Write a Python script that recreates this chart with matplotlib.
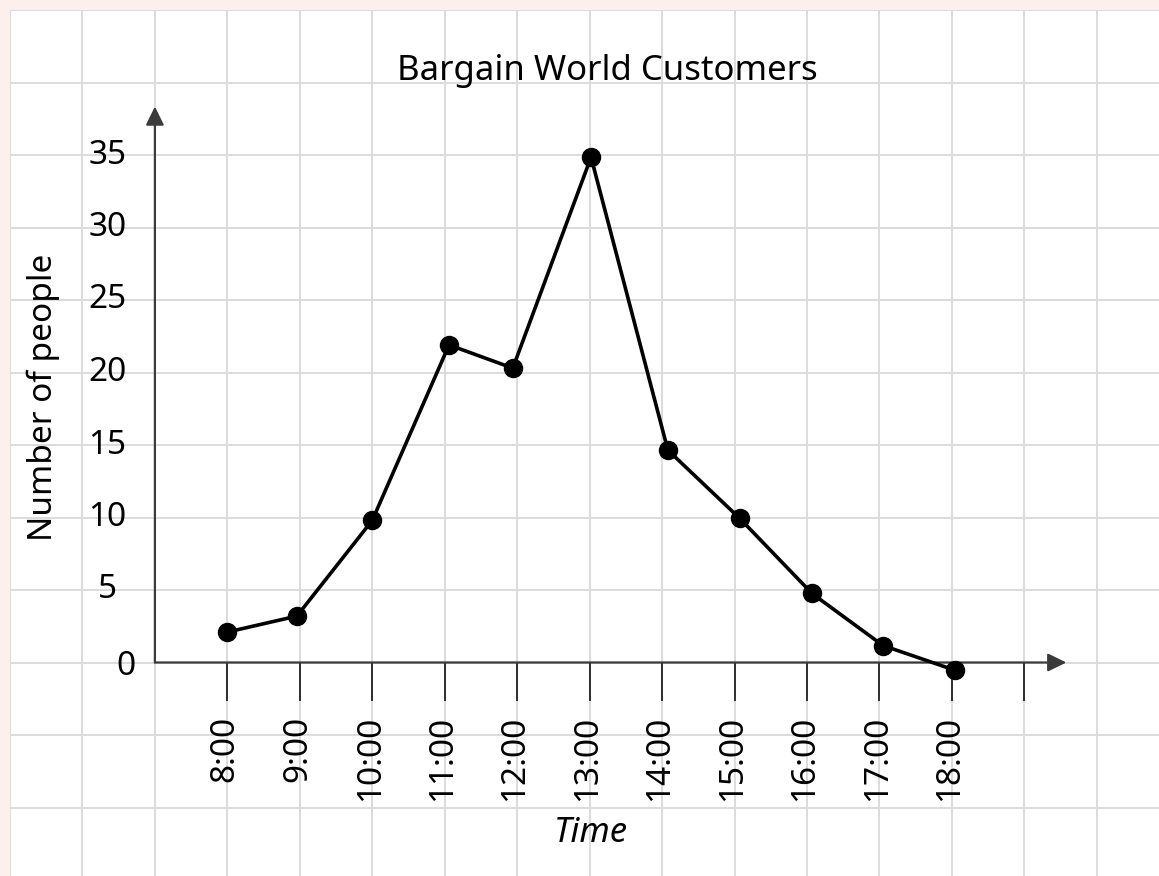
import matplotlib
matplotlib.use("Agg")
import matplotlib.pyplot as plt

# ---- data ----
times = [8.0, 8.96, 10.0, 11.06, 11.94, 13.02, 14.08, 15.07, 16.07, 17.05, 18.04]
customers = [2.1, 3.2, 9.8, 21.9, 20.3, 34.85, 14.65, 9.95, 4.76, 1.17, -0.53]
tick_hours = [8, 9, 10, 11, 12, 13, 14, 15, 16, 17, 18]
tick_labels = ["8:00", "9:00", "10:00", "11:00", "12:00", "13:00",
               "14:00", "15:00", "16:00", "17:00", "18:00"]
extra_tick = [19]
y_values = [0, 5, 10, 15, 20, 25, 30, 35]
title = "Bargain World Customers"
xlabel = "Time"
ylabel = "Number of people"

plt.rcParams['font.family'] = ['Noto Sans', 'DejaVu Sans']

W, H = 1159, 876
PX_H = 72.45   # pixels per hour
PX_V = 14.5    # pixels per person

def hx(px):
    """pixel x -> hour coordinate"""
    return 8 + (px - 228) / PX_H

def vy(py):
    """pixel y (from top) -> value coordinate"""
    return (663 - py) / PX_V

fig = plt.figure(figsize=(W / 100, H / 100), dpi=100, facecolor='#fdf0ec')
ax = fig.add_axes([10 / W, 0, (W - 10) / W, (H - 10) / H])
ax.set_facecolor('white')
ax.set_xlim(5, 5 + (W - 10) / PX_H)
ax.set_ylim(45 - (H - 10) / PX_V, 45)
for s in ax.spines.values():
    s.set_visible(False)

# background square grid
ax.set_xticks(range(5, 21))
ax.set_yticks(range(-10, 46, 5))
ax.grid(True, color='#dcdcdc', lw=1.4)
ax.tick_params(length=0, labelbottom=False, labelleft=False)
ax.set_axisbelow(True)

axis_col = '#3a3a3a'
x0 = 7
arrow = dict(arrowstyle='-|>,head_length=0.45,head_width=0.22',
             lw=1.6, color=axis_col, shrinkA=0, shrinkB=0, mutation_scale=25)
ax.annotate('', xy=(hx(1067), 0), xytext=(x0, 0), arrowprops=arrow)
ax.annotate('', xy=(x0, vy(107)), xytext=(x0, 0), arrowprops=arrow)

# tick marks
ax.vlines(tick_hours + extra_tick, vy(701), 0, color='black', lw=1.1)

# tick labels
for h, lab in zip(tick_hours, tick_labels):
    ax.text(h - 0.03, vy(716), lab, rotation=90, ha='center', va='top', fontsize=24)
for v in y_values:
    px = 127 if v == 0 else 108
    py_off = 4 if v == 0 else 0
    ax.text(hx(px), v - py_off / PX_V, str(v), ha='center', va='center', fontsize=24)

ax.text(hx(44), vy(398), ylabel, rotation=90, ha='center', va='center', fontsize=24)
ax.text(hx(592), vy(834), xlabel, ha='center', va='center', fontsize=25, style='italic')
ax.text(hx(608), vy(72), title, ha='center', va='center', fontsize=25)

# data
ax.plot(times, customers, color='black', lw=2.6, marker='o', ms=13,
        clip_on=False, zorder=5)

fig.savefig('out.png', dpi=100, facecolor=fig.get_facecolor())
